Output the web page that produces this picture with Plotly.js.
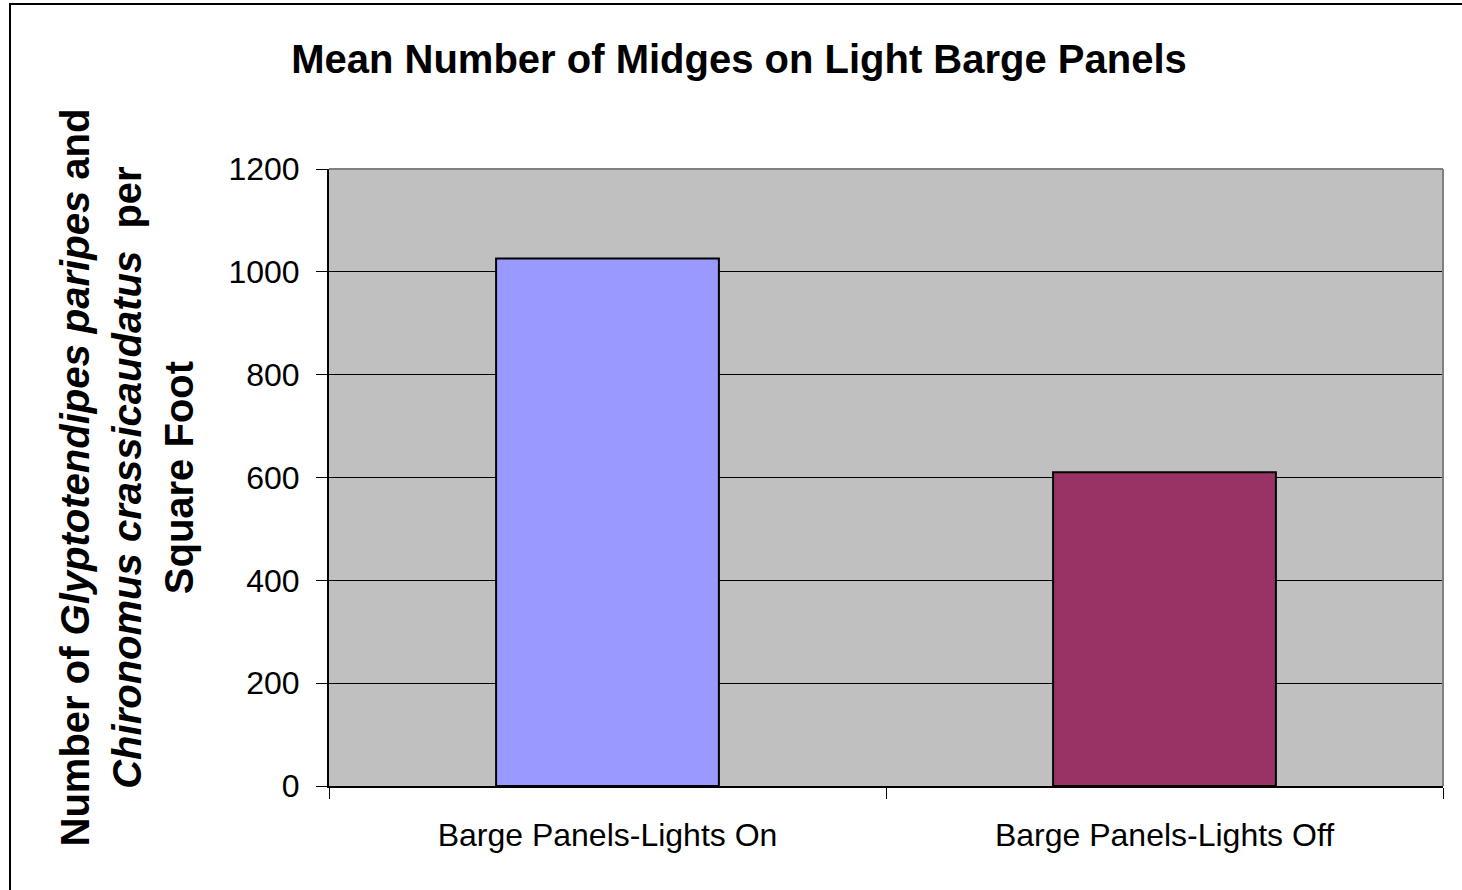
<!DOCTYPE html>
<html>
<head>
<meta charset="utf-8">
<script src="https://cdn.plot.ly/plotly-3.0.1.min.js"></script>
<style>
  html, body { margin: 0; padding: 0; background: #ffffff; }
  #frame { position: absolute; left: 9px; top: 3px; width: 1470px; height: 900px;
           border-left: 2px solid #000; border-top: 2px solid #000; pointer-events: none; }
  #chart { width: 1462px; height: 890px; }
</style>
</head>
<body>
<div id="chart"></div>
<div id="frame"></div>
<script>
// Mean midge counts per square foot on the light barge panels
const categories = ['Barge Panels-Lights On', 'Barge Panels-Lights Off'];
const meanCounts = [1026, 610];
const yTickValues = [0, 200, 400, 600, 800, 1000, 1200];
const yTickLabels = ['0', '200', '400', '600', '800', '1000', '1200'];

const barColors = ['#9999FF', '#993366'];
const FONT = '"Liberation Sans", Arial, Helvetica, sans-serif';

const W = 1462, H = 890;
const margin = { l: 329, r: 19, t: 169, b: 104 };
const plotW = W - margin.l - margin.r;

const trace = {
  type: 'bar',
  x: categories,
  y: meanCounts,
  marker: { color: barColors, line: { color: '#000000', width: 2 } },
  hoverinfo: 'x+y'
};

const layout = {
  width: W,
  height: H,
  margin: margin,
  paper_bgcolor: 'rgba(0,0,0,0)',
  plot_bgcolor: '#C0C0C0',
  showlegend: false,
  bargap: 0.6,
  font: { family: FONT, color: '#000000' },
  title: {
    text: 'Mean Number of Midges on Light Barge Panels',
    font: { family: FONT, size: 40, weight: 'bold', color: '#000000' },
    x: 739 / W, xanchor: 'center', xref: 'container',
    y: 0.934, yanchor: 'middle', yref: 'container'
  },
  xaxis: {
    type: 'category',
    showline: true, linecolor: '#000000', linewidth: 2,
    ticks: 'outside', tickson: 'boundaries', ticklen: 11, tickwidth: 1, tickcolor: '#000000',
    tickfont: { family: FONT, size: 32, color: '#000000' },
    ticklabelstandoff: 20,
    showgrid: false, zeroline: false
  },
  yaxis: {
    range: [0, 1200],
    tickvals: yTickValues, ticktext: yTickLabels,
    showline: true, linecolor: '#000000', linewidth: 2,
    ticks: 'outside', ticklen: 11, tickwidth: 1, tickcolor: '#000000',
    tickfont: { family: FONT, size: 32, color: '#000000' },
    ticklabelstandoff: 10,
    showgrid: true, gridcolor: '#000000', gridwidth: 1,
    zeroline: false
  },
  shapes: [
    // grey frame on the top and right of the plot area
    { type: 'line', xref: 'paper', yref: 'paper', x0: 0, x1: 1, y0: 1, y1: 1,
      line: { color: '#808080', width: 2 }, layer: 'above' },
    { type: 'line', xref: 'paper', yref: 'paper', x0: 1, x1: 1, y0: 0, y1: 1,
      line: { color: '#808080', width: 2 }, layer: 'above' }
  ],
  annotations: [
    {
      text: 'Number of <i>Glyptotendipes paripes</i> and<br><i>Chironomus crassicaudatus</i> \u00a0per<br>Square Foot',
      xref: 'paper', yref: 'paper',
      x: (126 - margin.l) / plotW, y: 0.5,
      xanchor: 'center', yanchor: 'middle',
      textangle: -90, showarrow: false, align: 'center',
      font: { family: FONT, size: 40, weight: 'bold', color: '#000000' }
    }
  ]
};

Plotly.newPlot('chart', [trace], layout, { displayModeBar: false, staticPlot: true });
</script>
</body>
</html>
